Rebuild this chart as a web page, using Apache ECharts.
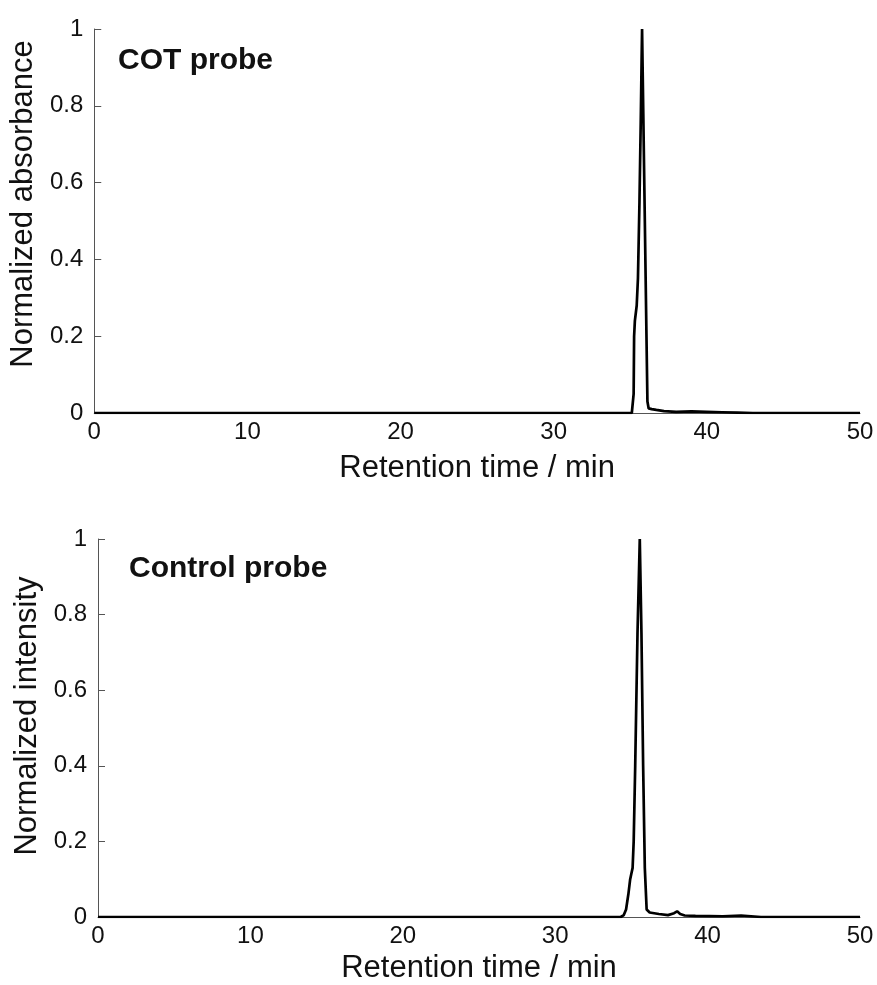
<!DOCTYPE html>
<html>
<head>
<meta charset="utf-8">
<script src="https://cdn.jsdelivr.net/npm/echarts@6/dist/echarts.min.js"></script>
<style>
  html, body { margin: 0; padding: 0; background: #fff; }
  #chart { width: 877px; height: 985px; }
</style>
</head>
<body>
<div id="chart"></div>
<script>
// retention time (min) and normalized signal
const cotTime = [0, 10, 20, 30, 35.1, 35.18, 35.22, 35.25, 35.3, 35.42, 35.5, 35.6, 35.68, 35.74, 35.77,
  35.85, 35.95, 36.05, 36.12, 36.2, 36.4, 36.7, 37.2, 38, 39, 40, 41, 42, 43, 50];
const cotSignal = [0, 0, 0, 0, 0, 0.005, 0.05, 0.2, 0.24, 0.28, 0.35, 0.55, 0.75, 0.92, 1.0,
  0.78, 0.5, 0.22, 0.03, 0.012, 0.01, 0.008, 0.005, 0.003, 0.004, 0.003, 0.002, 0.001, 0, 0];

const ctrlTime = [0, 10, 20, 30, 34.3, 34.5, 34.65, 34.8, 34.92, 35.0, 35.08, 35.15, 35.25, 35.4, 35.55,
  35.66, 35.77, 35.88, 36.0, 36.2, 36.5, 36.8, 37.4, 37.8, 38.0, 38.2, 38.5, 39.2, 41, 42.2, 43.5, 50];
const ctrlSignal = [0, 0, 0, 0, 0, 0.005, 0.02, 0.06, 0.1, 0.115, 0.13, 0.2, 0.4, 0.75, 1.0,
  0.75, 0.4, 0.13, 0.02, 0.012, 0.01, 0.008, 0.005, 0.01, 0.015, 0.008, 0.004, 0.003, 0.002, 0.004, 0, 0];

const xTicks = [0, 10, 20, 30, 40, 50];
const yTicks = [0, 0.2, 0.4, 0.6, 0.8, 1];
const panelTitles = ['COT probe', 'Control probe'];
const yNames = ['Normalized absorbance', 'Normalized intensity'];
const xName = 'Retention time / min';

const font = 'Liberation Sans, Arial, sans-serif';
const axisGray = '#555';

function pairs(xs, ys) {
  return xs.map((x, i) => [x, ys[i]]);
}

function xAxisFor(idx, gap) {
  return {
    gridIndex: idx, type: 'value', min: xTicks[0], max: xTicks[xTicks.length - 1], interval: 10,
    name: xName, nameLocation: 'middle', nameGap: gap,
    nameTextStyle: { fontFamily: font, fontSize: 31, color: '#111' },
    axisLine: { lineStyle: { color: axisGray, width: 1 } },
    axisTick: { show: false },
    axisLabel: { fontFamily: font, fontSize: 24, color: '#111', margin: 7 },
    splitLine: { show: false }
  };
}

function yAxisFor(idx, gap, lift) {
  return {
    gridIndex: idx, type: 'value', min: yTicks[0], max: yTicks[yTicks.length - 1], interval: 0.2,
    name: yNames[idx], nameLocation: 'middle', nameGap: gap,
    nameTextStyle: { fontFamily: font, fontSize: 31, color: '#111', padding: [0, 0, 0, lift] },
    axisLine: { show: true, lineStyle: { color: axisGray, width: 1 } },
    axisTick: { show: true, inside: true, length: 7, lineStyle: { color: axisGray } },
    axisLabel: { fontFamily: font, fontSize: 24, color: '#111', margin: 11 },
    splitLine: { show: false }
  };
}

const chart = echarts.init(document.getElementById('chart'));
chart.setOption({
  animation: false,
  backgroundColor: '#fff',
  title: [
    { text: panelTitles[0], left: 113, top: 41,
      textStyle: { fontFamily: font, fontSize: 30, fontWeight: 'bold', color: '#111' } },
    { text: panelTitles[1], left: 124, top: 549,
      textStyle: { fontFamily: font, fontSize: 30, fontWeight: 'bold', color: '#111' } }
  ],
  grid: [
    { left: 93, top: 29, width: 767, height: 384 },
    { left: 98, top: 539, width: 762, height: 380 }
  ],
  xAxis: [xAxisFor(0, 40), xAxisFor(1, 36)],
  yAxis: [yAxisFor(0, 50, 34), yAxisFor(1, 55, 24)],
  series: [
    { type: 'line', xAxisIndex: 0, yAxisIndex: 0, data: pairs(cotTime, cotSignal),
      showSymbol: false, lineStyle: { color: '#000', width: 2.7 } },
    { type: 'line', xAxisIndex: 1, yAxisIndex: 1, data: pairs(ctrlTime, ctrlSignal),
      showSymbol: false, lineStyle: { color: '#000', width: 2.7 } }
  ]
});
</script>
</body>
</html>
